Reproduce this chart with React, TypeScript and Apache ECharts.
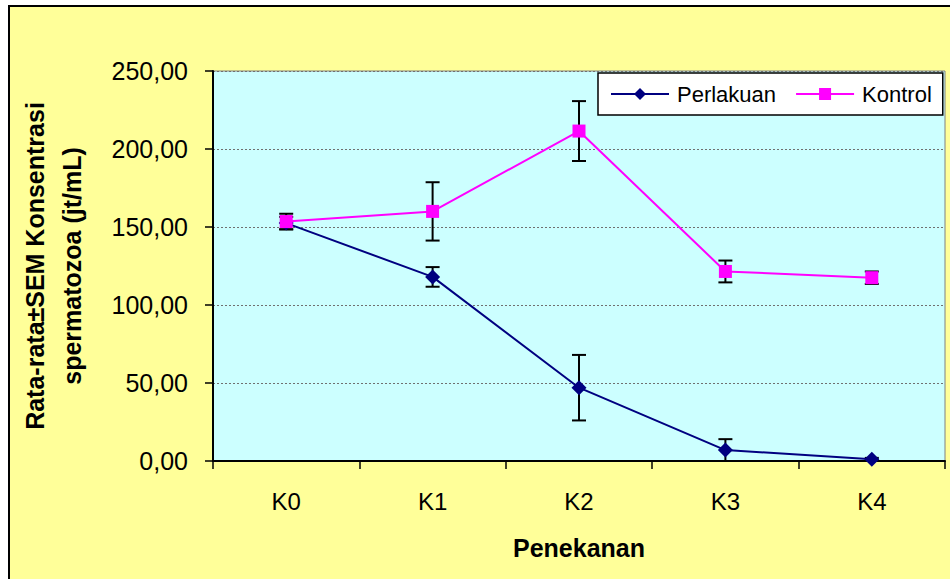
import React, { useEffect, useRef } from "react";
import * as echarts from "echarts";

const categories = ["K0", "K1", "K2", "K3", "K4"];
const perlakuanMean = [152.5, 118, 47, 7, 1.2];
const perlakuanSem = [4, 6.3, 21, 7, 0.8];
const kontrolMean = [153.5, 160, 211.5, 121.5, 117.5];
const kontrolSem = [5, 18.7, 19.2, 7, 4];
const yTicks = [0, 50, 100, 150, 200, 250];

const FONT = "'Liberation Sans', Arial, sans-serif";

function errorSeries(name: string, mean: number[], sem: number[]) {
  return {
    name,
    type: "custom",
    z: 1,
    silent: true,
    encode: { x: 0, y: 1 },
    data: mean.map((m, i) => [i, m, sem[i]]),
    renderItem: (params: any, api: any) => {
      const x = api.value(0);
      const y = api.value(1);
      const e = api.value(2);
      const top = api.coord([x, y + e]);
      const bot = api.coord([x, y - e]);
      const hw = 7;
      const style = { stroke: "#000", lineWidth: 2 };
      return {
        type: "group",
        children: [
          { type: "line", shape: { x1: top[0], y1: top[1], x2: bot[0], y2: bot[1] }, style },
          { type: "line", shape: { x1: top[0] - hw, y1: top[1], x2: top[0] + hw, y2: top[1] }, style },
          { type: "line", shape: { x1: bot[0] - hw, y1: bot[1], x2: bot[0] + hw, y2: bot[1] }, style },
        ],
      };
    },
  };
}

export default function App() {
  const ref = useRef<HTMLDivElement>(null);
  useEffect(() => {
    if (!ref.current) return;
    const chart = echarts.init(ref.current, undefined, { renderer: "svg" });
    chart.setOption({
      animation: false,
      backgroundColor: "transparent",
      textStyle: { fontFamily: FONT },
      grid: {
        left: 213,
        top: 71,
        width: 732,
        height: 390,
        show: true,
        backgroundColor: "#CCFFFF",
        borderColor: "#808080",
        borderWidth: 1,
        containLabel: false,
        outerBoundsMode: "none",
      },
      legend: {
        data: ["Perlakuan", "Kontrol"],
        left: 598,
        top: 73,
        orient: "horizontal",
        backgroundColor: "#FFFFFF",
        borderColor: "#000000",
        borderWidth: 1.5,
        borderRadius: 0,
        padding: [10, 11, 10, 12],
        itemWidth: 58,
        itemHeight: 15,
        itemGap: 19,
        textStyle: { fontSize: 22, color: "#000", fontFamily: FONT, padding: [0, 0, 0, 3] },
      },
      xAxis: {
        type: "category",
        data: categories,
        boundaryGap: true,
        axisLine: { show: true, lineStyle: { color: "#000", width: 2 } },
        axisTick: { show: true, length: 8, interval: 0, alignWithLabel: false, lineStyle: { color: "#000", width: 1.5 } },
        axisLabel: { fontSize: 24, color: "#000", margin: 28, fontFamily: FONT },
        splitLine: { show: false },
        name: "Penekanan",
        nameLocation: "middle",
        nameGap: 74,
        nameTextStyle: { fontSize: 25, fontWeight: "bold", color: "#000", fontFamily: FONT },
      },
      yAxis: {
        type: "value",
        min: yTicks[0],
        max: yTicks[yTicks.length - 1],
        interval: 50,
        axisLine: { show: true, lineStyle: { color: "#000", width: 2 } },
        axisTick: { show: true, length: 8, lineStyle: { color: "#000", width: 1.5 } },
        axisLabel: {
          fontSize: 25,
          color: "#000",
          margin: 25,
          fontFamily: FONT,
          formatter: (v: number) => v.toFixed(2).replace(".", ","),
        },
        splitLine: { show: true, lineStyle: { color: "#707070", type: [2, 2], width: 1 } },
        name: "Rata-rata±SEM Konsentrasi\nspermatozoa (jt/mL)",
        nameLocation: "middle",
        nameGap: 123,
        nameTextStyle: { fontSize: 25, fontWeight: "bold", color: "#000", lineHeight: 37, fontFamily: FONT },
      },
      series: [
        errorSeries("errP", perlakuanMean, perlakuanSem),
        errorSeries("errK", kontrolMean, kontrolSem),
        {
          name: "Perlakuan",
          type: "line",
          z: 2,
          data: perlakuanMean,
          symbol: "diamond",
          symbolSize: 15,
          itemStyle: { color: "#000080" },
          lineStyle: { color: "#000080", width: 2 },
        },
        {
          name: "Kontrol",
          type: "line",
          z: 3,
          data: kontrolMean,
          symbol: "rect",
          symbolSize: 13,
          itemStyle: { color: "#FF00FF" },
          lineStyle: { color: "#FF00FF", width: 2 },
        },
      ],
    });
    return () => chart.dispose();
  }, []);

  return (
    <div style={{ position: "absolute", left: 0, top: 0, width: 950, height: 579, overflow: "hidden", background: "#FFFFFF" }}>
      <div
        style={{
          position: "absolute",
          left: 8,
          top: 5,
          width: 1000,
          height: 1000,
          background: "#FFFF99",
          border: "2px solid #000",
        }}
      />
      <div ref={ref} style={{ position: "absolute", left: 0, top: 0, width: 950, height: 579 }} />
    </div>
  );
}
